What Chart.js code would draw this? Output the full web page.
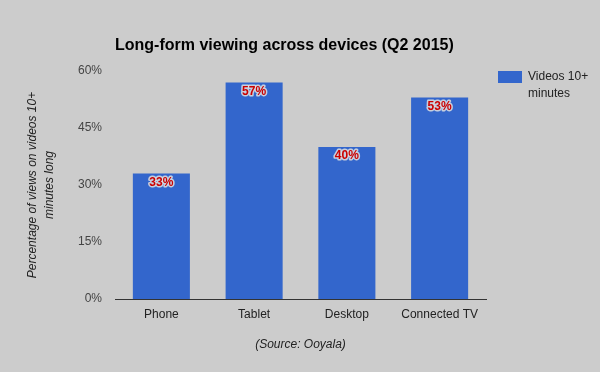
<!DOCTYPE html>
<html>
<head>
<meta charset="utf-8">
<script src="https://cdn.jsdelivr.net/npm/chart.js@4"></script>
<style>
  html, body { margin: 0; padding: 0; background: #cccccc; }
  canvas { display: block; }
</style>
</head>
<body>
<canvas id="chart" width="600" height="372"></canvas>
<script>
const devices = ['Phone', 'Tablet', 'Desktop', 'Connected TV'];
const longFormShare = [33, 57, 40, 53];
const yTicks = [0, 15, 30, 45, 60];
const seriesName = ['Videos 10+', 'minutes'];

const barColor = '#3366cc';

// title, legend and value labels drawn by hand
const extras = {
  id: 'extras',
  afterDatasetsDraw(chart) {
    const { ctx, chartArea } = chart;
    ctx.save();

    const meta = chart.getDatasetMeta(0);
    ctx.font = 'bold 12px Arial, "Liberation Sans", sans-serif';
    ctx.textAlign = 'center';
    ctx.textBaseline = 'middle';
    ctx.lineJoin = 'round';
    meta.data.forEach((bar, i) => {
      const text = longFormShare[i] + '%';
      const y = bar.y + 9;
      ctx.lineWidth = 3;
      ctx.strokeStyle = 'rgba(225,225,225,0.85)';
      ctx.strokeText(text, bar.x, y);
      ctx.fillStyle = '#cc0000';
      ctx.fillText(text, bar.x, y);
    });

    ctx.textAlign = 'left';
    ctx.fillStyle = '#000000';
    ctx.font = 'bold 16px Arial, "Liberation Sans", sans-serif';
    ctx.fillText('Long-form viewing across devices (Q2 2015)', chartArea.left, 46);

    ctx.fillStyle = barColor;
    ctx.fillRect(498, 71, 24, 12);
    ctx.fillStyle = '#222222';
    ctx.font = '12px Arial, "Liberation Sans", sans-serif';
    seriesName.forEach((line, i) => ctx.fillText(line, 528, 77 + i * 17));

    ctx.restore();
  }
};

new Chart(document.getElementById('chart'), {
  type: 'bar',
  data: {
    labels: devices,
    datasets: [{
      label: seriesName.join(' '),
      data: longFormShare,
      backgroundColor: barColor,
      barPercentage: 0.615,
      categoryPercentage: 1,
    }],
  },
  options: {
    responsive: false,
    animation: false,
    layout: { padding: { top: 71, right: 114, left: 0, bottom: 0 } },
    plugins: {
      legend: { display: false },
      tooltip: { enabled: false },
    },
    scales: {
      x: {
        grid: { display: false },
        border: { display: true, color: '#333333', width: 1 },
        ticks: {
          color: '#222222',
          font: { family: 'Arial, "Liberation Sans", sans-serif', size: 12 },
          padding: 0,
        },
        title: {
          display: true,
          text: '(Source: Ooyala)',
          color: '#222222',
          font: { family: 'Arial, "Liberation Sans", sans-serif', size: 12, style: 'italic' },
          padding: { top: 0, bottom: 20 },
        },
        afterFit(scale) { scale.height = 73; },
      },
      y: {
        min: 0,
        max: 60,
        grid: { display: false },
        border: { display: false },
        afterBuildTicks(scale) { scale.ticks = yTicks.map(v => ({ value: v })); },
        ticks: {
          color: '#444444',
          font: { family: 'Arial, "Liberation Sans", sans-serif', size: 12 },
          padding: 5,
          callback: v => v + '%',
        },
        title: {
          display: true,
          text: ['Percentage of views on videos 10+', 'minutes long'],
          color: '#222222',
          font: { family: 'Arial, "Liberation Sans", sans-serif', size: 12, style: 'italic', lineHeight: 1.4 },
          padding: { top: 24, bottom: 0 },
        },
        afterFit(scale) { scale.width = 115; },
      },
    },
  },
  plugins: [extras],
});
</script>
</body>
</html>
